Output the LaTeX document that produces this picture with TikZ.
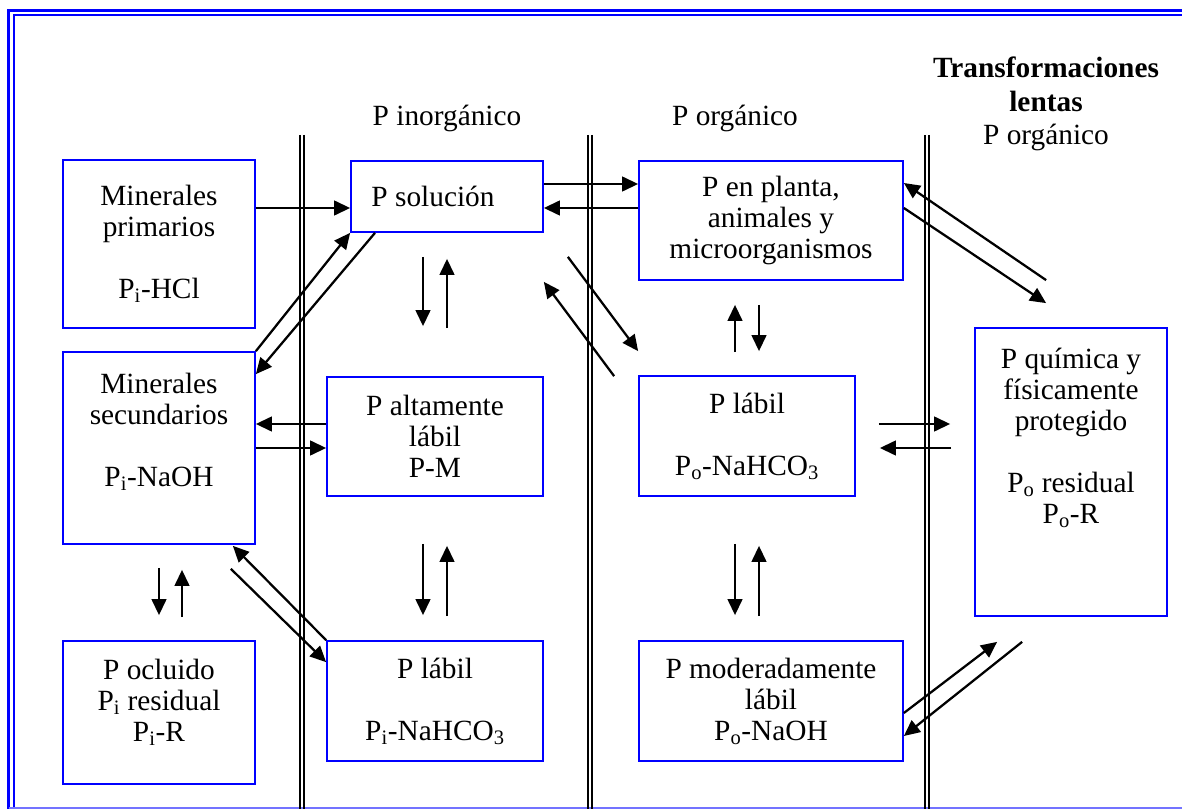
\documentclass[tikz,border=0pt]{standalone}
\usepackage{fontspec}
\setmainfont{Liberation Serif}
\usetikzlibrary{arrows.meta}

\tikzset{
  pool/.style 2 args={draw=blue, line width=1.3pt, inner sep=0pt, align=center,
    minimum width={#1*0.75pt}, minimum height={#2*0.75pt}},
  flow/.style={-{Triangle[length=12pt,width=11pt]}, line width=1.7pt},
  sep/.style={line width=1.1pt},
  outerrule/.style={draw=blue, line width=2.25pt},
  innerrule/.style={draw=blue, line width=1.5pt},
}

\begin{document}
\begin{tikzpicture}[x=0.75pt,y=-0.75pt,font=\fontsize{22}{23.25}\selectfont]
\useasboundingbox (0,0) rectangle (1182,809);

% frame
\draw[outerrule] (8.5,809) -- (8.5,10.5) -- (1182,10.5);
\draw[innerrule] (13.5,808) -- (13.5,15.5) -- (1182,15.5);
\draw[blue!55, line width=1.2pt] (8.5,808.2) -- (1182,808.2);

% separators
\foreach \x in {300,588,925}
  \draw[sep] (\x,135) -- (\x,809) (\x+4,135) -- (\x+4,809);

% headings
\node (hinorg) at (447,118) {P inorgánico};
\node (horg) at (735,118) {P orgánico};
\node[align=center] (hslow) at (1046,104) {\textbf{Transformaciones}\\[2pt]\textbf{lentas}\\[2pt]P orgánico};

% pools
\node[pool={192}{168}] (minprim) at (159,244) {Minerales\\primarios\\[23.25pt]P\textsubscript{i}-HCl};
\node[pool={192}{71}] (psol) at (447,196.5) {P solución\hspace*{21pt}};
\node[pool={264}{119}] (planta) at (771,220.5) {P en planta,\\animales y\\microorganismos};
\node[pool={192}{192}] (minsec) at (159,448) {Minerales\\secundarios\\[23.25pt]P\textsubscript{i}-NaOH\\[3.75pt]~};
\node[pool={216}{119}] (palta) at (435,436.5) {P altamente\\lábil\\P-M};
\node[pool={216}{120}] (plabo) at (747,436) {P lábil\\[23.25pt]P\textsubscript{o}-NaHCO\textsubscript{3}};
\node[pool={192}{288}] (pquim) at (1071,472) {P química y\\físicamente\\protegido\\[23.25pt]P\textsubscript{o} residual\\P\textsubscript{o}-R\\[30.75pt]~};
\node[pool={192}{143}] (pocl) at (159,712.5) {P ocluido\\P\textsubscript{i} residual\\P\textsubscript{i}-R\\[-4.5pt]~};
\node[pool={216}{120}] (plabi) at (435,701) {P lábil\\[23.25pt]P\textsubscript{i}-NaHCO\textsubscript{3}};
\node[pool={264}{120}] (pmod) at (771,701) {P moderadamente\\lábil\\P\textsubscript{o}-NaOH};

% exchanges
\draw[flow] ([shift={(0,-36)}]minprim.east) -- ([shift={(0,11.5)}]psol.west);
\draw[flow] ([shift={(0,-12.5)}]psol.east) -- ([shift={(0,-36.5)}]planta.west);
\draw[flow] ([shift={(0,-12.5)}]planta.west) -- ([shift={(0,11.5)}]psol.east);
\draw[flow] (minsec.north east) -- (psol.south west);
\draw[flow] ([shift={(-72,0)}]psol.south) -- ([shift={(0,23)}]minsec.north east);
\draw[flow] ([shift={(-24,24)}]psol.south) -- ([shift={(-12,-50)}]palta.north);
\draw[flow] ([shift={(12,-48)}]palta.north) -- ([shift={(0,26)}]psol.south);
\draw[flow] ([shift={(24,24)}]psol.south east) -- ([shift={(0,-24)}]plabo.north west);
\draw[flow] ([shift={(-24,1)}]plabo.north west) -- ([shift={(0,49)}]psol.south east);
\draw[flow] ([shift={(-12,-23)}]plabo.north) -- ([shift={(-36,24)}]planta.south);
\draw[flow] ([shift={(-12,24)}]planta.south) -- ([shift={(12,-24)}]plabo.north);
\draw[flow] ([shift={(0,-12.5)}]planta.east) -- ([shift={(72,-24)}]pquim.north west);
\draw[flow] ([shift={(72,-47)}]pquim.north west) -- ([shift={(0,-37.5)}]planta.east);
\draw[flow] ([shift={(0,-12.5)}]palta.west) -- ([shift={(0,-24)}]minsec.east);
\draw[flow] (minsec.east) -- ([shift={(0,11.5)}]palta.west);
\draw[flow] ([shift={(23,-12)}]plabo.east) -- ([shift={(-24,-48)}]pquim.west);
\draw[flow] ([shift={(-23,-24)}]pquim.west) -- ([shift={(24,12)}]plabo.east);
\draw[flow] ([shift={(0,23)}]minsec.south) -- ([shift={(0,-25)}]pocl.north);
\draw[flow] ([shift={(23,-23)}]pocl.north) -- ([shift={(23,25)}]minsec.south);
\draw[flow] (plabi.north west) -- ([shift={(-23,1)}]minsec.south east);
\draw[flow] ([shift={(-25,24)}]minsec.south east) -- ([shift={(0,22)}]plabi.north west);
\draw[flow] ([shift={(-12,47)}]palta.south) -- ([shift={(-12,-25)}]plabi.north);
\draw[flow] ([shift={(12,-24)}]plabi.north) -- ([shift={(12,49)}]palta.south);
\draw[flow] ([shift={(-12,47)}]plabo.south) -- ([shift={(-36,-25)}]pmod.north);
\draw[flow] ([shift={(-12,-24)}]pmod.north) -- ([shift={(12,49)}]plabo.south);
\draw[flow] ([shift={(0,12)}]pmod.east) -- ([shift={(23,25)}]pquim.south west);
\draw[flow] ([shift={(48,25)}]pquim.south west) -- ([shift={(0,35)}]pmod.east);

\end{tikzpicture}
\end{document}
